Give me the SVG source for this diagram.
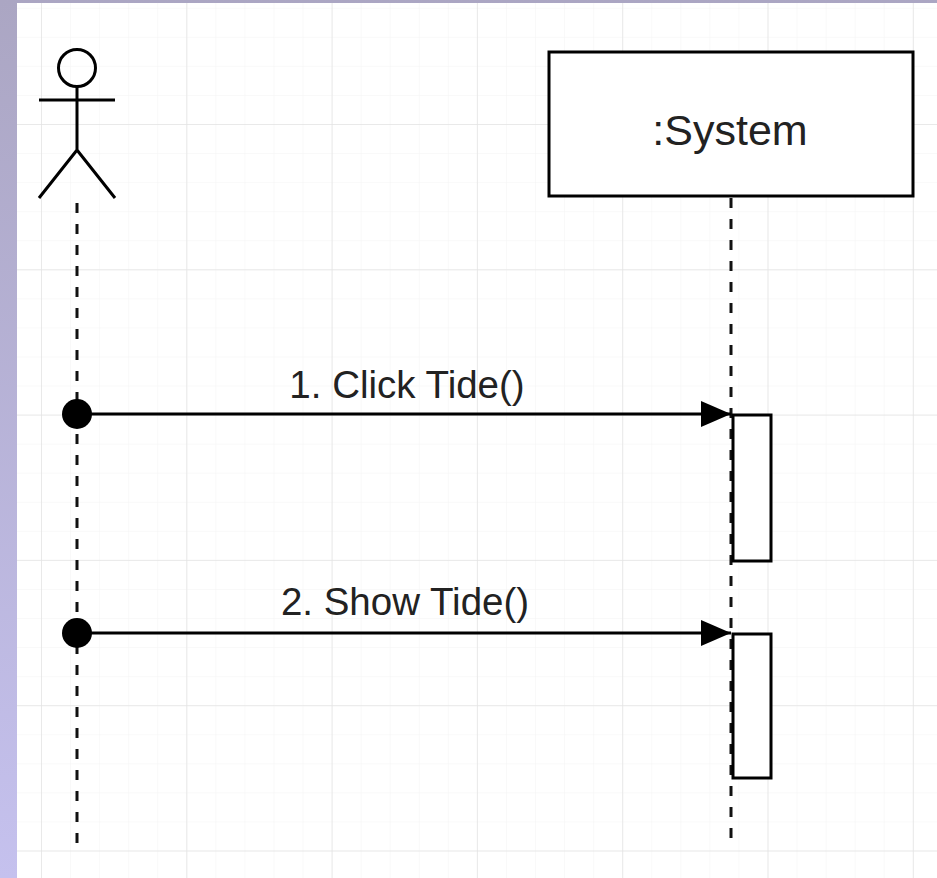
<svg xmlns="http://www.w3.org/2000/svg" width="937" height="878" viewBox="0 0 937 878">
<defs>
<linearGradient id="lav" x1="0" y1="0" x2="0" y2="1">
<stop offset="0" stop-color="#aba6c3"/>
<stop offset="1" stop-color="#c5c1ee"/>
</linearGradient>
<pattern id="minor" patternUnits="userSpaceOnUse" x="41" y="124" width="29.06" height="29.06">
<path d="M0 0H29.06M0 0V29.06" fill="none" stroke="#f3f3f3" stroke-width="1"/>
</pattern>
<pattern id="major" patternUnits="userSpaceOnUse" x="41" y="124" width="145.3" height="145.3">
<path d="M0 0H145.3M0 0V145.3" fill="none" stroke="#e4e4e4" stroke-width="1.5"/>
</pattern>
<marker id="arrow" markerUnits="userSpaceOnUse" markerWidth="32" markerHeight="28" refX="30" refY="13" orient="auto">
<path d="M0 0L30 13L0 26Z" fill="#000"/>
</marker>
</defs>
<style>
.ln{stroke:#000;stroke-width:3;fill:none}
.life{stroke:#111;stroke-width:3;stroke-dasharray:10 11;fill:none}
.lbl{font-family:"Liberation Sans",Arial,sans-serif;fill:#222;text-anchor:middle}
.box{fill:#fff;stroke:#000;stroke-width:3}
</style>
<rect x="0" y="0" width="937" height="878" fill="url(#lav)"/>
<rect x="17" y="3" width="920" height="875" fill="#fff"/>
<rect x="17" y="3" width="920" height="875" fill="url(#minor)"/>
<rect x="17" y="3" width="920" height="875" fill="url(#major)"/>

<g id="actor">
<circle class="ln" cx="77" cy="68" r="18.5"/>
<path class="ln" d="M77 87V150M39 100H115M77 150L39 198M77 150L115 198"/>
</g>
<g id="system">
<rect class="box" x="549" y="52" width="364" height="144"/>
<text class="lbl" x="730" y="145" font-size="43">:System</text>
</g>
<g id="lifelines">
<path class="life" d="M77 203V843"/>
<path class="life" d="M731 198V843"/>
</g>
<g id="act1">
<rect class="box" x="733" y="415" width="38" height="146"/>
</g>
<g id="act2">
<rect class="box" x="733" y="634" width="38" height="144"/>
</g>
<g id="connectors">
<circle cx="77" cy="414" r="15" fill="#000"/>
<path class="ln" d="M77 414H731" marker-end="url(#arrow)"/>
<text class="lbl" x="407" y="398" font-size="38.5">1. Click Tide()</text>
<circle cx="77" cy="633" r="15" fill="#000"/>
<path class="ln" d="M77 633H731" marker-end="url(#arrow)"/>
<text class="lbl" x="405" y="615" font-size="38.5">2. Show Tide()</text>
</g>
</svg>
